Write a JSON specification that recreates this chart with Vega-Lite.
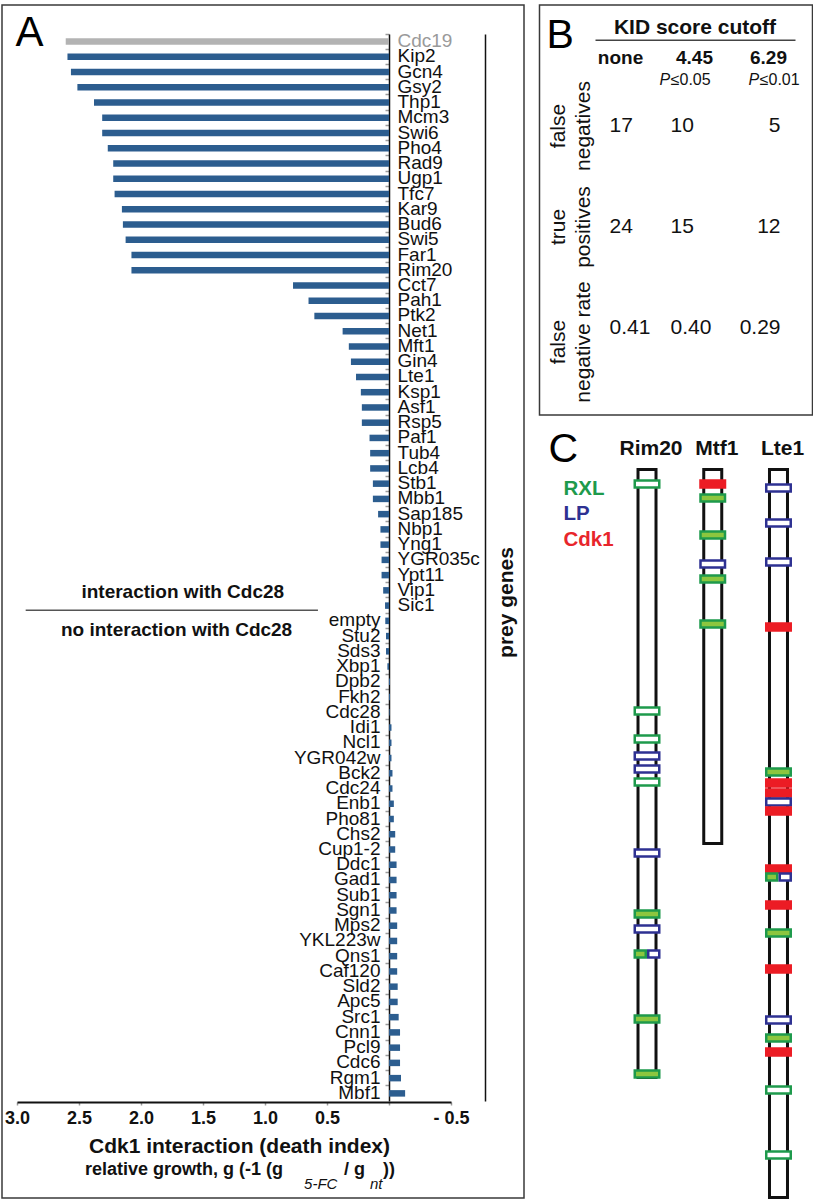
{
  "$schema": "https://vega.github.io/schema/vega-lite/v6.json",
  "background": "white",
  "padding": {"left": 1, "top": 4, "right": 0, "bottom": 0},
  "spacing": 13.5,
  "config": {
    "font": "Liberation Sans",
    "view": {"stroke": "#3a3a3a", "strokeWidth": 1.5},
    "text": {"font": "Liberation Sans", "color": "#111111"},
    "axis": {"labelFont": "Liberation Sans", "titleFont": "Liberation Sans"}
  },
  "hconcat": [
    {
      "width": 522,
      "height": 1193,
      "data": {"values": [
        {"gene": "Cdc19", "value": 2.607, "cdc28": "interaction"},
        {"gene": "Kip2", "value": 2.593, "cdc28": "interaction"},
        {"gene": "Gcn4", "value": 2.565, "cdc28": "interaction"},
        {"gene": "Gsy2", "value": 2.513, "cdc28": "interaction"},
        {"gene": "Thp1", "value": 2.379, "cdc28": "interaction"},
        {"gene": "Mcm3", "value": 2.313, "cdc28": "interaction"},
        {"gene": "Swi6", "value": 2.313, "cdc28": "interaction"},
        {"gene": "Pho4", "value": 2.268, "cdc28": "interaction"},
        {"gene": "Rad9", "value": 2.224, "cdc28": "interaction"},
        {"gene": "Ugp1", "value": 2.224, "cdc28": "interaction"},
        {"gene": "Tfc7", "value": 2.213, "cdc28": "interaction"},
        {"gene": "Kar9", "value": 2.154, "cdc28": "interaction"},
        {"gene": "Bud6", "value": 2.146, "cdc28": "interaction"},
        {"gene": "Swi5", "value": 2.124, "cdc28": "interaction"},
        {"gene": "Far1", "value": 2.077, "cdc28": "interaction"},
        {"gene": "Rim20", "value": 2.077, "cdc28": "interaction"},
        {"gene": "Cct7", "value": 0.774, "cdc28": "interaction"},
        {"gene": "Pah1", "value": 0.649, "cdc28": "interaction"},
        {"gene": "Ptk2", "value": 0.602, "cdc28": "interaction"},
        {"gene": "Net1", "value": 0.374, "cdc28": "interaction"},
        {"gene": "Mft1", "value": 0.324, "cdc28": "interaction"},
        {"gene": "Gin4", "value": 0.307, "cdc28": "interaction"},
        {"gene": "Lte1", "value": 0.266, "cdc28": "interaction"},
        {"gene": "Ksp1", "value": 0.227, "cdc28": "interaction"},
        {"gene": "Asf1", "value": 0.219, "cdc28": "interaction"},
        {"gene": "Rsp5", "value": 0.219, "cdc28": "interaction"},
        {"gene": "Paf1", "value": 0.157, "cdc28": "interaction"},
        {"gene": "Tub4", "value": 0.152, "cdc28": "interaction"},
        {"gene": "Lcb4", "value": 0.152, "cdc28": "interaction"},
        {"gene": "Stb1", "value": 0.130, "cdc28": "interaction"},
        {"gene": "Mbb1", "value": 0.130, "cdc28": "interaction"},
        {"gene": "Sap185", "value": 0.088, "cdc28": "interaction"},
        {"gene": "Nbp1", "value": 0.069, "cdc28": "interaction"},
        {"gene": "Yng1", "value": 0.069, "cdc28": "interaction"},
        {"gene": "YGR035c", "value": 0.060, "cdc28": "interaction"},
        {"gene": "Ypt11", "value": 0.060, "cdc28": "interaction"},
        {"gene": "Vip1", "value": 0.047, "cdc28": "interaction"},
        {"gene": "Sic1", "value": 0.032, "cdc28": "interaction"},
        {"gene": "empty", "value": 0.030, "cdc28": "no interaction"},
        {"gene": "Stu2", "value": 0.024, "cdc28": "no interaction"},
        {"gene": "Sds3", "value": 0.024, "cdc28": "no interaction"},
        {"gene": "Xbp1", "value": 0.013, "cdc28": "no interaction"},
        {"gene": "Dpb2", "value": -0.008, "cdc28": "no interaction"},
        {"gene": "Fkh2", "value": -0.008, "cdc28": "no interaction"},
        {"gene": "Cdc28", "value": -0.005, "cdc28": "no interaction"},
        {"gene": "Idi1", "value": -0.02, "cdc28": "no interaction"},
        {"gene": "Ncl1", "value": -0.02, "cdc28": "no interaction"},
        {"gene": "YGR042w", "value": -0.02, "cdc28": "no interaction"},
        {"gene": "Bck2", "value": -0.028, "cdc28": "no interaction"},
        {"gene": "Cdc24", "value": -0.028, "cdc28": "no interaction"},
        {"gene": "Enb1", "value": -0.039, "cdc28": "no interaction"},
        {"gene": "Pho81", "value": -0.039, "cdc28": "no interaction"},
        {"gene": "Chs2", "value": -0.05, "cdc28": "no interaction"},
        {"gene": "Cup1-2", "value": -0.05, "cdc28": "no interaction"},
        {"gene": "Ddc1", "value": -0.061, "cdc28": "no interaction"},
        {"gene": "Gad1", "value": -0.061, "cdc28": "no interaction"},
        {"gene": "Sub1", "value": -0.061, "cdc28": "no interaction"},
        {"gene": "Sgn1", "value": -0.061, "cdc28": "no interaction"},
        {"gene": "Mps2", "value": -0.066, "cdc28": "no interaction"},
        {"gene": "YKL223w", "value": -0.066, "cdc28": "no interaction"},
        {"gene": "Qns1", "value": -0.066, "cdc28": "no interaction"},
        {"gene": "Caf120", "value": -0.066, "cdc28": "no interaction"},
        {"gene": "Sld2", "value": -0.07, "cdc28": "no interaction"},
        {"gene": "Apc5", "value": -0.07, "cdc28": "no interaction"},
        {"gene": "Src1", "value": -0.078, "cdc28": "no interaction"},
        {"gene": "Cnn1", "value": -0.089, "cdc28": "no interaction"},
        {"gene": "Pcl9", "value": -0.089, "cdc28": "no interaction"},
        {"gene": "Cdc6", "value": -0.089, "cdc28": "no interaction"},
        {"gene": "Rgm1", "value": -0.097, "cdc28": "no interaction"},
        {"gene": "Mbf1", "value": -0.13, "cdc28": "no interaction"}
      ]},
      "resolve": {"axis": {"y": "independent"}},
      "layer": [
        {
          "mark": {"type": "bar", "size": 6.5},
          "encoding": {
            "y": {
              "field": "gene", "type": "nominal",
              "scale": {
                "domain": ["Cdc19","Kip2","Gcn4","Gsy2","Thp1","Mcm3","Swi6","Pho4","Rad9","Ugp1","Tfc7","Kar9","Bud6","Swi5","Far1","Rim20","Cct7","Pah1","Ptk2","Net1","Mft1","Gin4","Lte1","Ksp1","Asf1","Rsp5","Paf1","Tub4","Lcb4","Stb1","Mbb1","Sap185","Nbp1","Yng1","YGR035c","Ypt11","Vip1","Sic1","empty","Stu2","Sds3","Xbp1","Dpb2","Fkh2","Cdc28","Idi1","Ncl1","YGR042w","Bck2","Cdc24","Enb1","Pho81","Chs2","Cup1-2","Ddc1","Gad1","Sub1","Sgn1","Mps2","YKL223w","Qns1","Caf120","Sld2","Apc5","Src1","Cnn1","Pcl9","Cdc6","Rgm1","Mbf1"],
                "range": [29, 1096], "paddingInner": 0, "paddingOuter": 0
              },
              "axis": {"orient": "left", "offset": -387, "labels": false, "title": null, "ticks": true, "tickColor": "#9a9a9a", "tickSize": 4, "tickWidth": 1.5, "bandPosition": 0, "domainColor": "#111111", "domainWidth": 1.5, "grid": false}
            },
            "x": {
              "field": "value", "type": "quantitative",
              "scale": {"domain": [3, -0.5], "range": [15, 449], "nice": false},
              "axis": {
                "orient": "bottom", "offset": -96, "values": [3, 2.5, 2, 1.5, 1, 0.5, 0, -0.5],
                "labelExpr": "datum.value === 0 ? '' : (datum.value < 0 ? '- ' + format(-datum.value, '.1f') : format(datum.value, '.1f'))",
                "labelFontSize": 18, "labelFontWeight": "bold", "labelColor": "#111111", "labelPadding": 4, "labelFlush": false, "labelOverlap": false,
                "tickColor": "#9a9a9a", "tickSize": 3, "tickWidth": 1.5, "domainColor": "#111111", "domainWidth": 2, "grid": false,
                "title": "Cdk1 interaction (death index)", "titleFontSize": 21, "titleFontWeight": "bold", "titleColor": "#111111",
                "titleX": 237, "titleY": 50.7, "titleBaseline": "alphabetic", "titleAlign": "center"
              }
            },
            "color": {"condition": {"test": "datum.gene === 'Cdc19'", "value": "#b3b3b3"}, "value": "#2c5d8f"}
          }
        },
        {
          "transform": [{"filter": "datum.cdc28 === 'interaction'"}],
          "mark": {"type": "text", "align": "left", "baseline": "alphabetic", "dx": 8.5, "dy": 5.5, "fontSize": 19},
          "encoding": {
            "y": {"field": "gene", "type": "nominal",
              "axis": {"orient": "right", "offset": -39, "labels": false, "ticks": false, "grid": false, "domainColor": "#111111", "domainWidth": 1.5,
                "title": "prey genes", "titleFontSize": 21, "titleFontWeight": "bold", "titleColor": "#111111", "titleAngle": 270, "titleX": 21, "titleY": 597, "titleBaseline": "middle", "titleAlign": "center"}},
            "x": {"datum": 0, "type": "quantitative"},
            "text": {"field": "gene"},
            "color": {"condition": {"test": "datum.gene === 'Cdc19'", "value": "#9a9a9a"}, "value": "#111111"}
          }
        },
        {
          "transform": [{"filter": "datum.cdc28 === 'no interaction'"}],
          "mark": {"type": "text", "align": "right", "baseline": "alphabetic", "dx": -8.5, "dy": 5.5, "fontSize": 19, "color": "#111111"},
          "encoding": {
            "y": {"field": "gene", "type": "nominal", "axis": null},
            "x": {"datum": 0, "type": "quantitative"},
            "text": {"field": "gene"}
          }
        },
        {
          "data": {"values": [{}]},
          "mark": {"type": "text", "text": "A", "fontSize": 42, "align": "left", "baseline": "alphabetic", "dx": -1.5, "dy": 4.4, "color": "#000000"},
          "encoding": {"x": {"datum": 3, "type": "quantitative"}, "y": {"datum": "Cdc19", "type": "nominal", "axis": null}}
        },
        {
          "data": {"values": [{}]},
          "mark": {"type": "text", "text": "interaction with Cdc28", "fontSize": 19, "fontWeight": "bold", "align": "center", "baseline": "alphabetic", "dy": 7.3},
          "encoding": {"x": {"datum": 1.663, "type": "quantitative"}, "y": {"datum": "Vip1", "type": "nominal", "axis": null}}
        },
        {
          "data": {"values": [{}]},
          "mark": {"type": "text", "text": "no interaction with Cdc28", "fontSize": 19, "fontWeight": "bold", "align": "center", "baseline": "alphabetic", "dy": 15.1},
          "encoding": {"x": {"datum": 1.713, "type": "quantitative"}, "y": {"datum": "empty", "type": "nominal", "axis": null}}
        },
        {
          "data": {"values": [{}]},
          "mark": {"type": "rule", "color": "#555555", "strokeWidth": 1.5, "yOffset": 4.7},
          "encoding": {"x": {"datum": 2.93, "type": "quantitative"}, "x2": {"datum": 0.573}, "y": {"datum": "Sic1", "type": "nominal", "axis": null}}
        },
        {
          "data": {"values": [{}]},
          "mark": {"type": "text", "text": "relative growth, g  (-1 (g", "fontSize": 18, "fontWeight": "bold", "align": "left", "baseline": "alphabetic", "dy": 81.6},
          "encoding": {"x": {"datum": 2.452, "type": "quantitative"}, "y": {"datum": "Mbf1", "type": "nominal", "axis": null}}
        },
        {
          "data": {"values": [{}]},
          "mark": {"type": "text", "text": "5-FC", "fontSize": 15, "fontStyle": "italic", "align": "left", "baseline": "alphabetic", "dy": 95.6},
          "encoding": {"x": {"datum": 0.685, "type": "quantitative"}, "y": {"datum": "Mbf1", "type": "nominal", "axis": null}}
        },
        {
          "data": {"values": [{}]},
          "mark": {"type": "text", "text": "/ g", "fontSize": 18, "fontWeight": "bold", "align": "left", "baseline": "alphabetic", "dy": 81.6},
          "encoding": {"x": {"datum": 0.363, "type": "quantitative"}, "y": {"datum": "Mbf1", "type": "nominal", "axis": null}}
        },
        {
          "data": {"values": [{}]},
          "mark": {"type": "text", "text": "nt", "fontSize": 15, "fontStyle": "italic", "align": "left", "baseline": "alphabetic", "dy": 95.6},
          "encoding": {"x": {"datum": 0.153, "type": "quantitative"}, "y": {"datum": "Mbf1", "type": "nominal", "axis": null}}
        },
        {
          "data": {"values": [{}]},
          "mark": {"type": "text", "text": "))", "fontSize": 18, "fontWeight": "bold", "align": "left", "baseline": "alphabetic", "dy": 81.6},
          "encoding": {"x": {"datum": 0.048, "type": "quantitative"}, "y": {"datum": "Mbf1", "type": "nominal", "axis": null}}
        }
      ]
    },
    {
      "spacing": 6,
      "vconcat": [
        {
          "width": 273,
          "height": 410,
          "resolve": {"scale": {"x": "independent"}},
          "layer": [
            {
              "data": {"values": [
                {"row": "false negatives", "col": "none", "value": "17"},
                {"row": "false negatives", "col": "4.45", "value": "10"},
                {"row": "false negatives", "col": "6.29", "value": "5"},
                {"row": "true positives", "col": "none", "value": "24"},
                {"row": "true positives", "col": "4.45", "value": "15"},
                {"row": "true positives", "col": "6.29", "value": "12"},
                {"row": "false negative rate", "col": "none", "value": "0.41"},
                {"row": "false negative rate", "col": "4.45", "value": "0.40"},
                {"row": "false negative rate", "col": "6.29", "value": "0.29"}
              ]},
              "layer": [
                {
                  "transform": [{"filter": "datum.col === 'none'"}],
                  "mark": {"type": "text", "fontSize": 21, "align": "left", "baseline": "alphabetic", "dx": -10, "dy": 5.5},
                  "encoding": {
                    "x": {"field": "col", "type": "nominal", "scale": {"type": "point", "domain": ["none", "4.45", "6.29"], "range": [80, 228], "padding": 0}, "axis": null},
                    "y": {"field": "row", "type": "nominal", "scale": {"type": "point", "domain": ["false negatives", "true positives", "false negative rate"], "range": [121, 323], "padding": 0}, "axis": null},
                    "text": {"field": "value"}
                  }
                },
                {
                  "transform": [{"filter": "datum.col === '4.45'"}],
                  "mark": {"type": "text", "fontSize": 21, "align": "left", "baseline": "alphabetic", "dx": -23, "dy": 5.5},
                  "encoding": {
                    "x": {"field": "col", "type": "nominal", "axis": null},
                    "y": {"field": "row", "type": "nominal", "axis": null},
                    "text": {"field": "value"}
                  }
                },
                {
                  "transform": [{"filter": "datum.col === '6.29'"}],
                  "mark": {"type": "text", "fontSize": 21, "align": "right", "baseline": "alphabetic", "dx": 13, "dy": 5.5},
                  "encoding": {
                    "x": {"field": "col", "type": "nominal", "axis": null},
                    "y": {"field": "row", "type": "nominal", "axis": null},
                    "text": {"field": "value"}
                  }
                },
                {
                  "data": {"values": [
                    {"col": "none", "cutoff": "none", "p": ""},
                    {"col": "4.45", "cutoff": "4.45", "p": "≤0.05"},
                    {"col": "6.29", "cutoff": "6.29", "p": "≤0.01"}
                  ]},
                  "layer": [
                    {
                      "mark": {"type": "text", "fontSize": 19, "fontWeight": "bold", "align": "center", "baseline": "alphabetic", "dx": 1, "dy": -62},
                      "encoding": {
                        "x": {"field": "col", "type": "nominal", "axis": null},
                        "y": {"datum": "false negatives", "type": "nominal", "axis": null},
                        "text": {"field": "cutoff"}
                      }
                    },
                    {
                      "transform": [{"filter": "datum.col === '4.45'"}],
                      "mark": {"type": "text", "text": "P", "fontSize": 16, "fontStyle": "italic", "align": "right", "baseline": "alphabetic", "dx": -23.3, "dy": -41.5},
                      "encoding": {"x": {"field": "col", "type": "nominal", "axis": null}, "y": {"datum": "false negatives", "type": "nominal", "axis": null}}
                    },
                    {
                      "transform": [{"filter": "datum.col === '4.45'"}],
                      "mark": {"type": "text", "fontSize": 16, "align": "left", "baseline": "alphabetic", "dx": -22.8, "dy": -41.5},
                      "encoding": {"x": {"field": "col", "type": "nominal", "axis": null}, "y": {"datum": "false negatives", "type": "nominal", "axis": null}, "text": {"field": "p"}}
                    },
                    {
                      "transform": [{"filter": "datum.col === '6.29'"}],
                      "mark": {"type": "text", "text": "P", "fontSize": 16, "fontStyle": "italic", "align": "right", "baseline": "alphabetic", "dx": -8.3, "dy": -41.5},
                      "encoding": {"x": {"field": "col", "type": "nominal", "axis": null}, "y": {"datum": "false negatives", "type": "nominal", "axis": null}}
                    },
                    {
                      "transform": [{"filter": "datum.col === '6.29'"}],
                      "mark": {"type": "text", "fontSize": 16, "align": "left", "baseline": "alphabetic", "dx": -7.8, "dy": -41.5},
                      "encoding": {"x": {"field": "col", "type": "nominal", "axis": null}, "y": {"datum": "false negatives", "type": "nominal", "axis": null}, "text": {"field": "p"}}
                    }
                  ]
                },
                {
                  "data": {"values": [{}]},
                  "mark": {"type": "text", "text": "KID score cutoff", "fontSize": 21, "fontWeight": "bold", "align": "center", "baseline": "alphabetic", "dx": 1.5, "dy": -92},
                  "encoding": {"x": {"datum": "4.45", "type": "nominal", "axis": null}, "y": {"datum": "false negatives", "type": "nominal", "axis": null}}
                },
                {
                  "data": {"values": [
                    {"row": "false negatives", "label": "false\nnegatives"},
                    {"row": "true positives", "label": "true\npositives"}
                  ]},
                  "mark": {"type": "text", "fontSize": 21, "angle": 270, "align": "center", "baseline": "middle", "lineBreak": "\n", "lineHeight": 25, "dx": 0, "dy": -61},
                  "encoding": {"x": {"datum": "none", "type": "nominal", "axis": null}, "y": {"field": "row", "type": "nominal", "axis": null}, "text": {"field": "label"}}
                },
                {
                  "data": {"values": [
                    {"row": "false negative rate", "label": "false\nnegative rate"}
                  ]},
                  "mark": {"type": "text", "fontSize": 21, "angle": 270, "align": "center", "baseline": "middle", "lineBreak": "\n", "lineHeight": 25, "dx": -14, "dy": -61},
                  "encoding": {"x": {"datum": "none", "type": "nominal", "axis": null}, "y": {"field": "row", "type": "nominal", "axis": null}, "text": {"field": "label"}}
                },
                {
                  "data": {"values": [{}]},
                  "mark": {"type": "text", "text": "B", "fontSize": 41, "align": "left", "baseline": "alphabetic", "dx": -73, "dy": -78, "color": "#000000"},
                  "encoding": {"x": {"datum": "none", "type": "nominal", "axis": null}, "y": {"datum": "false negatives", "type": "nominal", "axis": null}}
                }
              ]
            },
            {
              "data": {"values": [{}]},
              "mark": {"type": "rule", "color": "#444444", "strokeWidth": 1.5, "yOffset": -85.7},
              "encoding": {
                "x": {"datum": 0, "type": "quantitative", "scale": {"domain": [0, 1], "range": [56, 256], "nice": false, "zero": false}, "axis": null},
                "x2": {"datum": 1},
                "y": {"datum": "false negatives", "type": "nominal", "axis": null}
              }
            }
          ]
        },
        {
          "width": 273,
          "height": 777,
          "view": {"stroke": null},
          "layer": [
            {
              "data": {"values": [
                {"protein": "Rim20", "length": 1216},
                {"protein": "Mtf1", "length": 748},
                {"protein": "Lte1", "length": 1456}
              ]},
              "mark": {"type": "bar", "size": 18, "fill": "white", "stroke": "#111111", "strokeWidth": 3},
              "encoding": {
                "x": {"field": "protein", "type": "nominal", "scale": {"type": "band", "domain": ["Rim20", "Mtf1", "Lte1"], "range": [94, 252.5], "paddingInner": 0.589, "paddingOuter": 0}, "axis": null},
                "y": {"field": "length", "type": "quantitative", "scale": {"domain": [0, 1456], "range": [47.5, 775.5], "nice": false}, "axis": null}
              }
            },
            {
              "data": {"values": [
                {"protein": "Rim20", "pos": 29, "motif": "RXL", "kind": "weak"},
                {"protein": "Rim20", "pos": 483, "motif": "RXL", "kind": "weak"},
                {"protein": "Rim20", "pos": 539, "motif": "RXL", "kind": "weak"},
                {"protein": "Rim20", "pos": 573, "motif": "LP", "kind": "weak"},
                {"protein": "Rim20", "pos": 599, "motif": "LP", "kind": "weak"},
                {"protein": "Rim20", "pos": 625, "motif": "RXL", "kind": "weak"},
                {"protein": "Rim20", "pos": 767, "motif": "LP", "kind": "weak"},
                {"protein": "Rim20", "pos": 889, "motif": "RXL", "kind": "strong"},
                {"protein": "Rim20", "pos": 919, "motif": "LP", "kind": "weak"},
                {"protein": "Rim20", "pos": 969, "motif": "RXL", "kind": "strong", "overlap": "left"},
                {"protein": "Rim20", "pos": 969, "motif": "LP", "kind": "weak", "overlap": "right"},
                {"protein": "Rim20", "pos": 1099, "motif": "RXL", "kind": "strong"},
                {"protein": "Rim20", "pos": 1209, "motif": "RXL", "kind": "strong"},
                {"protein": "Mtf1", "pos": 29, "motif": "Cdk1", "kind": "site"},
                {"protein": "Mtf1", "pos": 57, "motif": "RXL", "kind": "strong"},
                {"protein": "Mtf1", "pos": 131, "motif": "RXL", "kind": "strong"},
                {"protein": "Mtf1", "pos": 189, "motif": "LP", "kind": "weak"},
                {"protein": "Mtf1", "pos": 219, "motif": "RXL", "kind": "strong"},
                {"protein": "Mtf1", "pos": 309, "motif": "RXL", "kind": "strong"},
                {"protein": "Lte1", "pos": 37, "motif": "LP", "kind": "weak"},
                {"protein": "Lte1", "pos": 107, "motif": "LP", "kind": "weak"},
                {"protein": "Lte1", "pos": 185, "motif": "LP", "kind": "weak"},
                {"protein": "Lte1", "pos": 315, "motif": "Cdk1", "kind": "site"},
                {"protein": "Lte1", "pos": 605, "motif": "RXL", "kind": "strong"},
                {"protein": "Lte1", "pos": 627, "motif": "Cdk1", "kind": "site"},
                {"protein": "Lte1", "pos": 647, "motif": "Cdk1", "kind": "site"},
                {"protein": "Lte1", "pos": 665, "motif": "LP", "kind": "weak"},
                {"protein": "Lte1", "pos": 683, "motif": "Cdk1", "kind": "site"},
                {"protein": "Lte1", "pos": 799, "motif": "Cdk1", "kind": "site"},
                {"protein": "Lte1", "pos": 815, "motif": "RXL", "kind": "strong", "overlap": "left"},
                {"protein": "Lte1", "pos": 815, "motif": "LP", "kind": "weak", "overlap": "right"},
                {"protein": "Lte1", "pos": 871, "motif": "Cdk1", "kind": "site"},
                {"protein": "Lte1", "pos": 927, "motif": "RXL", "kind": "strong"},
                {"protein": "Lte1", "pos": 999, "motif": "Cdk1", "kind": "site"},
                {"protein": "Lte1", "pos": 1101, "motif": "LP", "kind": "weak"},
                {"protein": "Lte1", "pos": 1137, "motif": "RXL", "kind": "strong"},
                {"protein": "Lte1", "pos": 1165, "motif": "Cdk1", "kind": "site"},
                {"protein": "Lte1", "pos": 1241, "motif": "RXL", "kind": "weak"},
                {"protein": "Lte1", "pos": 1371, "motif": "RXL", "kind": "weak"}
              ]},
              "encoding": {
                "x": {"field": "protein", "type": "nominal", "axis": null},
                "y": {"field": "pos", "type": "quantitative", "axis": null},
                "stroke": {"condition": [{"test": "datum.motif === 'RXL'", "value": "#1e9a4c"}, {"test": "datum.motif === 'LP'", "value": "#2e3192"}], "value": "#ec1c24"},
                "fill": {"condition": [{"test": "datum.motif === 'Cdk1'", "value": "#ec1c24"}, {"test": "datum.kind === 'strong'", "value": "#8cc63f"}], "value": "white"}
              },
              "layer": [
                {
                  "transform": [{"filter": "!datum.overlap"}],
                  "mark": {"type": "tick", "size": 24.5, "thickness": 7, "strokeWidth": 2.5, "opacity": 1}
                },
                {
                  "transform": [{"filter": "datum.overlap === 'left'"}],
                  "mark": {"type": "tick", "size": 11, "thickness": 7, "strokeWidth": 2.5, "opacity": 1, "xOffset": -6.75}
                },
                {
                  "transform": [{"filter": "datum.overlap === 'right'"}],
                  "mark": {"type": "tick", "size": 11, "thickness": 7, "strokeWidth": 2.5, "opacity": 1, "xOffset": 6.75}
                }
              ]
            },
            {
              "data": {"values": [
                {"protein": "Rim20"},
                {"protein": "Mtf1"},
                {"protein": "Lte1"}
              ]},
              "mark": {"type": "text", "fontSize": 21, "fontWeight": "bold", "align": "center", "baseline": "alphabetic", "dx": 4, "dy": -14.5},
              "encoding": {
                "x": {"field": "protein", "type": "nominal", "axis": null},
                "y": {"datum": 0, "type": "quantitative", "axis": null},
                "text": {"field": "protein"}
              }
            },
            {
              "data": {"values": [{}]},
              "mark": {"type": "text", "text": "RXL", "fontSize": 20.5, "fontWeight": "bold", "align": "left", "baseline": "alphabetic", "dx": -83.5, "dy": 25.8, "color": "#1e9a4c"},
              "encoding": {"x": {"datum": "Rim20", "type": "nominal", "axis": null}, "y": {"datum": 0, "type": "quantitative", "axis": null}}
            },
            {
              "data": {"values": [{}]},
              "mark": {"type": "text", "text": "LP", "fontSize": 20.5, "fontWeight": "bold", "align": "left", "baseline": "alphabetic", "dx": -83.5, "dy": 50.8, "color": "#2e3192"},
              "encoding": {"x": {"datum": "Rim20", "type": "nominal", "axis": null}, "y": {"datum": 0, "type": "quantitative", "axis": null}}
            },
            {
              "data": {"values": [{}]},
              "mark": {"type": "text", "text": "Cdk1", "fontSize": 20.5, "fontWeight": "bold", "align": "left", "baseline": "alphabetic", "dx": -83.5, "dy": 76.5, "color": "#e8252b"},
              "encoding": {"x": {"datum": "Rim20", "type": "nominal", "axis": null}, "y": {"datum": 0, "type": "quantitative", "axis": null}}
            },
            {
              "data": {"values": [{}]},
              "mark": {"type": "text", "text": "C", "fontSize": 41, "align": "left", "baseline": "alphabetic", "dx": -98.5, "dy": -7.5, "color": "#000000"},
              "encoding": {"x": {"datum": "Rim20", "type": "nominal", "axis": null}, "y": {"datum": 0, "type": "quantitative", "axis": null}}
            }
          ]
        }
      ]
    }
  ]
}
